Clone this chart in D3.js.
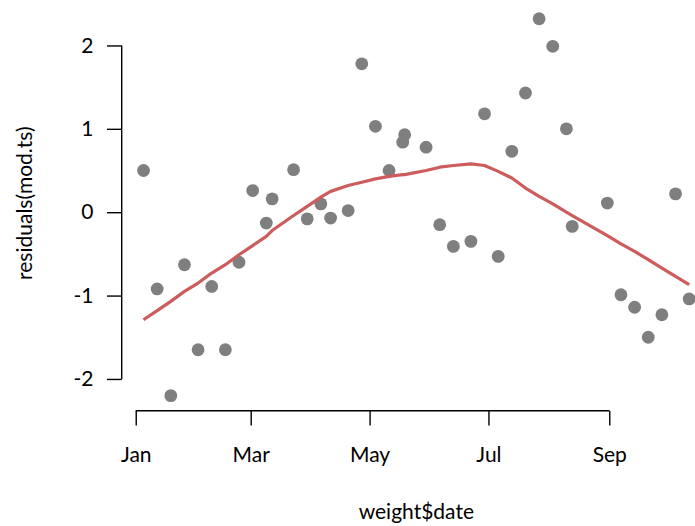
<!DOCTYPE html>
<html>
<head>
<meta charset="utf-8">
<script src="https://cdn.jsdelivr.net/npm/d3@7"></script>
<style>
  html, body { margin: 0; padding: 0; background: #fff; }
  svg { display: block; font-family: Lato, "Noto Sans", sans-serif; }
</style>
</head>
<body>
<svg id="chart" width="695" height="526"></svg>
<script>
// Observation dates (weekly weigh-ins)
const dates = [
  "2017-01-05","2017-01-12","2017-01-19","2017-01-26","2017-02-02","2017-02-09",
  "2017-02-16","2017-02-23","2017-03-02","2017-03-09","2017-03-12","2017-03-23",
  "2017-03-30","2017-04-06","2017-04-11","2017-04-20","2017-04-27","2017-05-04",
  "2017-05-11","2017-05-18","2017-05-19","2017-05-30","2017-06-06","2017-06-13",
  "2017-06-22","2017-06-29","2017-07-06","2017-07-13","2017-07-20","2017-07-27",
  "2017-08-03","2017-08-10","2017-08-13","2017-08-31","2017-09-07","2017-09-14",
  "2017-09-21","2017-09-28","2017-10-05","2017-10-12"
];

// Model residuals at each date
const residuals = [
   0.50, -0.92, -2.20, -0.63, -1.65, -0.89,
  -1.65, -0.60,  0.26, -0.13,  0.16,  0.51,
  -0.08,  0.10, -0.07,  0.02,  1.78,  1.03,
   0.50,  0.84,  0.93,  0.78, -0.15, -0.41,
  -0.35,  1.18, -0.53,  0.73,  1.43,  2.32,
   1.99,  1.00, -0.17,  0.11, -0.99, -1.14,
  -1.50, -1.23,  0.22, -1.04
];

// Lowess smooth of the residuals, evaluated at each date
const smooth = [
  -1.29, -1.18, -1.07, -0.95, -0.85, -0.73,
  -0.63, -0.51, -0.40, -0.29, -0.22, -0.04,
   0.07,  0.18,  0.25,  0.32,  0.36,  0.40,
   0.43,  0.45,  0.45,  0.50,  0.54,  0.56,
   0.58,  0.56,  0.49,  0.41,  0.29,  0.19,
   0.10,  0.00, -0.04, -0.28, -0.38, -0.47,
  -0.57, -0.67, -0.77, -0.87
];

// Axis ticks
const xTickDates = ["2017-01-01","2017-03-01","2017-05-01","2017-07-01","2017-09-01"];
const xTickLabels = ["Jan","Mar","May","Jul","Sep"];
const yTicks = [-2, -1, 0, 1, 2];
const yTickLabels = ["-2", "-1", "0", "1", "2"];

const parse = d3.utcParse("%Y-%m-%d");
const data = dates.map((d, i) => ({ date: parse(d), r: residuals[i], s: smooth[i] }));

const plot = { left: 121.7, right: 711, top: 3.7, bottom: 410.7 };
const fontSize = 21;

// Base-graphics style ranges: data extent padded by 4% on each side
function padded(ext) {
  const span = ext[1] - ext[0];
  return [ext[0] - 0.04 * span, ext[1] + 0.04 * span];
}
const tExt = d3.extent(data, d => +d.date);
const x = d3.scaleUtc()
  .domain(padded(tExt).map(v => new Date(v)))
  .range([plot.left, plot.right]);
const y = d3.scaleLinear()
  .domain(padded(d3.extent(data, d => d.r)))
  .range([plot.bottom, plot.top]);

const svg = d3.select("#chart");

// x axis
const xTicks = xTickDates.map(parse);
const xAxis = svg.append("g")
  .attr("transform", `translate(0,${plot.bottom})`)
  .call(d3.axisBottom(x)
    .tickValues(xTicks)
    .tickFormat((d, i) => xTickLabels[i])
    .tickSize(14.7)
    .tickPadding(21.5)
    .tickSizeOuter(0));
xAxis.select(".domain")
  .attr("d", `M${x(xTicks[0])},0H${x(xTicks[xTicks.length - 1])}`);

// y axis
const yAxis = svg.append("g")
  .attr("transform", `translate(${plot.left},0)`)
  .call(d3.axisLeft(y)
    .tickValues(yTicks)
    .tickFormat((d, i) => yTickLabels[i])
    .tickSize(14.7)
    .tickPadding(13.5)
    .tickSizeOuter(0));
yAxis.select(".domain")
  .attr("d", `M0,${y(yTicks[0])}V${y(yTicks[yTicks.length - 1])}`);

svg.selectAll(".tick text")
  .attr("font-size", fontSize)
  .attr("font-family", "Lato, 'Noto Sans', sans-serif")
  .attr("fill", "#000");
svg.selectAll(".domain, .tick line")
  .attr("stroke", "#000")
  .attr("stroke-width", 1.4);

// points
svg.append("g")
  .selectAll("circle")
  .data(data)
  .join("circle")
  .attr("cx", d => x(d.date))
  .attr("cy", d => y(d.r))
  .attr("r", 6.4)
  .attr("fill", "#7f7f7f");

// smooth curve
svg.append("path")
  .datum(data)
  .attr("fill", "none")
  .attr("stroke", "#cd5c5c")
  .attr("stroke-width", 3.2)
  .attr("stroke-linejoin", "round")
  .attr("d", d3.line().x(d => x(d.date)).y(d => y(d.s)));

// axis titles
svg.append("text")
  .attr("x", (plot.left + plot.right) / 2)
  .attr("y", 518.5)
  .attr("text-anchor", "middle")
  .attr("font-size", fontSize)
  .text("weight$date");

svg.append("text")
  .attr("transform", `translate(31.5,${(plot.top + plot.bottom) / 2 - 4}) rotate(-90)`)
  .attr("text-anchor", "middle")
  .attr("font-size", fontSize)
  .text("residuals(mod.ts)");
</script>
</body>
</html>
